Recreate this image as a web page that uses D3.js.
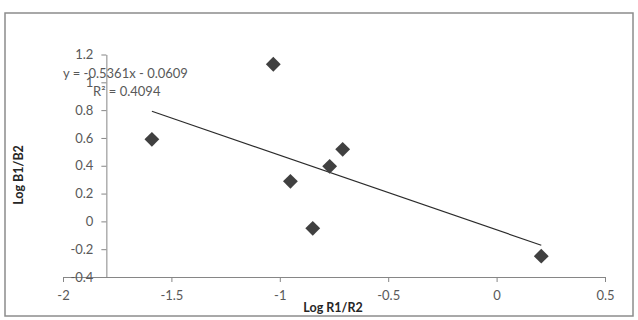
<!DOCTYPE html>
<html><head><meta charset="utf-8">
<script src="https://cdn.jsdelivr.net/npm/d3@7"></script>
<style>body{margin:0;background:#fff}svg{display:block}</style>
</head><body>
<svg id="c" width="638" height="320"></svg>
<script>
const xVals = [-1.59, -1.03, -0.951, -0.770, -0.710, -0.848, 0.206];
const yVals = [0.59, 1.13, 0.288, 0.396, 0.518, -0.05, -0.25];
const xTicks = [-2, -1.5, -1, -0.5, 0, 0.5];
const yTicks = [-0.4, -0.2, 0, 0.2, 0.4, 0.6, 0.8, 1, 1.2];
const slope = -0.5361, intercept = -0.0609;
const eqText = "y = -0.5361x - 0.0609";
const r2Text = "R² = 0.4094";
const xTitle = "Log R1/R2", yTitle = "Log B1/B2";

const svg = d3.select("#c");
const font = "Lato, 'Open Sans', sans-serif";
const fmt = d => d3.format("")(d).replace("−","-");
svg.append("rect").attr("x",5).attr("y",13).attr("width",628).attr("height",303)
  .attr("fill","#fff").attr("stroke","#8c8c8c").attr("stroke-width",1.5);

const x = d3.scaleLinear().domain([-2,0.5]).range([63,605]);
const y = d3.scaleLinear().domain([-0.4,1.2]).range([277,54.5]);
const yAxisX = x(-1.8);

// x axis
const xa = svg.append("g").attr("transform",`translate(0,${y(-0.4)})`)
  .call(d3.axisBottom(x).tickValues(xTicks).tickSize(5).tickSizeOuter(0).tickPadding(9).tickFormat(fmt));
xa.select(".domain").attr("stroke","#868686");
xa.selectAll(".tick line").attr("stroke","#868686");
xa.selectAll("text").attr("fill","#595959").style("font-family",font).style("font-size","13px");

// y axis
const ya = svg.append("g").attr("transform",`translate(${yAxisX},0)`)
  .call(d3.axisLeft(y).tickValues(yTicks).tickSize(5).tickSizeOuter(0).tickPadding(8).tickFormat(fmt));
ya.select(".domain").attr("stroke","#868686");
ya.selectAll(".tick line").attr("stroke","#868686");
ya.selectAll("text").attr("fill","#595959").style("font-family",font).style("font-size","13px");

// trendline
const x0 = d3.min(xVals), x1 = d3.max(xVals);
svg.append("line").attr("x1",x(x0)).attr("y1",y(slope*x0+intercept))
  .attr("x2",x(x1)).attr("y2",y(slope*x1+intercept))
  .attr("stroke","#2b2b2b").attr("stroke-width",1.2);

// points
svg.selectAll("path.pt").data(xVals.map((v,i)=>[v,yVals[i]])).enter().append("path")
  .attr("class","pt")
  .attr("transform",d=>`translate(${x(d[0])},${y(d[1])}) rotate(45)`)
  .attr("d", d3.symbol().type(d3.symbolSquare).size(110))
  .attr("fill","#404040");

// equation
svg.append("text").attr("x",63).attr("y",78).text(eqText)
  .attr("fill","#595959").style("font-family",font).style("font-size","13px");
svg.append("text").attr("x",93).attr("y",96).text(r2Text)
  .attr("fill","#595959").style("font-family",font).style("font-size","13px");

// titles
svg.append("text").attr("x",333).attr("y",312).attr("text-anchor","middle").text(xTitle)
  .attr("fill","#262626").style("font-family",font).style("font-size","12.5px").style("font-weight","bold");
svg.append("text").attr("transform","translate(23,175) rotate(-90)").attr("text-anchor","middle").text(yTitle)
  .attr("fill","#262626").style("font-family",font).style("font-size","12.5px").style("font-weight","bold");
</script>
</body></html>
